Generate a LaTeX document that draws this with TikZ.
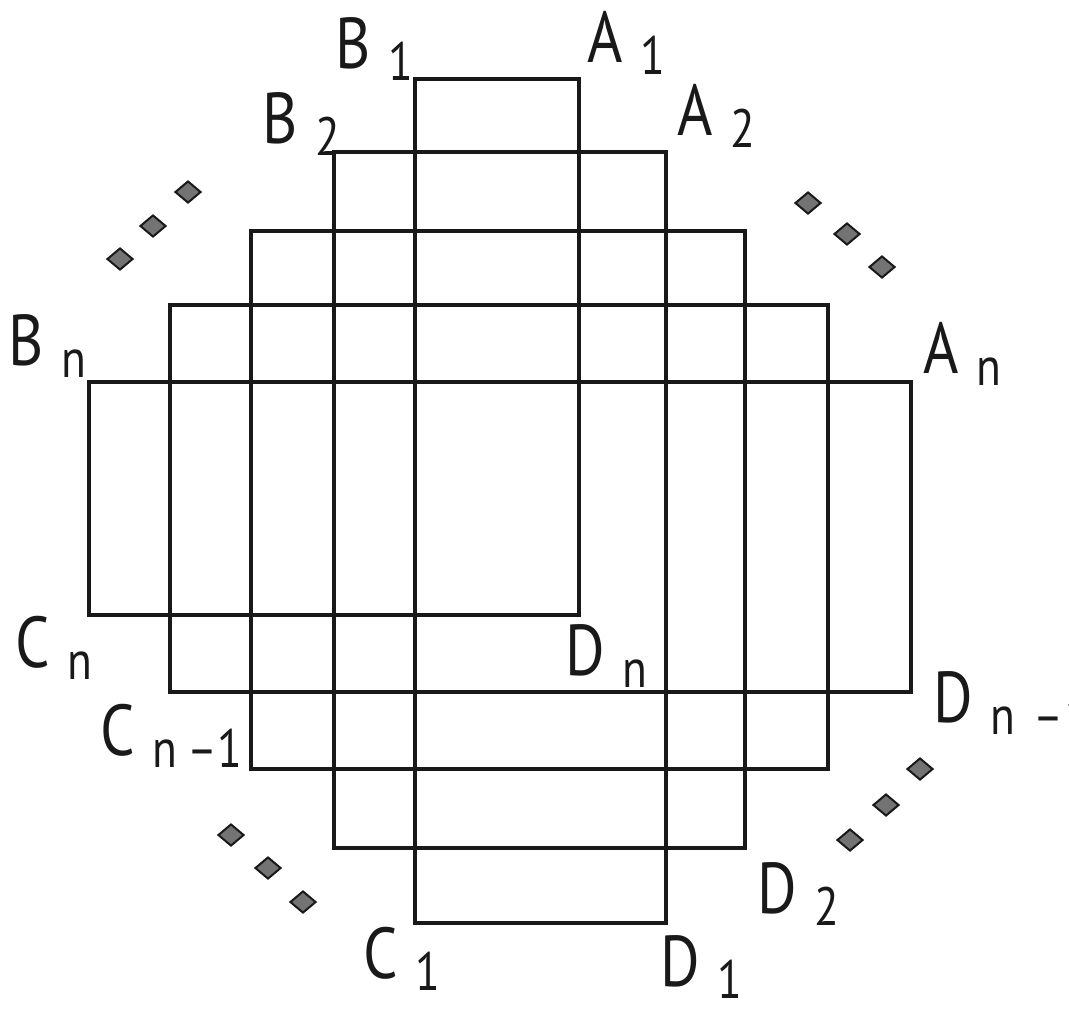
\documentclass[tikz,border=0pt]{standalone}
\usepackage{fontspec}
\setmainfont{PT Sans}[FakeStretch=0.84]
\usetikzlibrary{shapes.geometric}
\definecolor{mygray}{RGB}{115,115,115}
\definecolor{myink}{RGB}{25,25,25}
\newcommand{\corner}[2]{#1\hspace{9pt}\raisebox{-6pt}{\fontsize{27}{27}\selectfont #2}}

\begin{document}
\begin{tikzpicture}[x=0.5pt, y=-0.5pt,
    wire/.style={line width=1.7pt, line join=miter, color=myink},
    lbl/.style={anchor=base west, inner sep=0pt, font=\fontsize{36}{36}\selectfont, text=myink},
    dotmark/.style={diamond, draw=myink, fill=mygray, line width=1pt,
        minimum width=13pt, minimum height=11pt, inner sep=0pt}]
    % Page frame
    \useasboundingbox (0, 0) rectangle (1069, 1008);
    \clip (0, 0) rectangle (1069, 1008);

    % Corners of the spiral, loop by loop
    \coordinate (a1) at (579, 79);
    \coordinate (b1) at (415, 79);
    \coordinate (c1) at (415, 923);
    \coordinate (d1) at (666, 923);
    \coordinate (a2) at (666, 152);
    \coordinate (b2) at (334, 152);
    \coordinate (c2) at (334, 848);
    \coordinate (d2) at (745, 848);
    \coordinate (a3) at (745, 231);
    \coordinate (b3) at (251, 231);
    \coordinate (c3) at (251, 769);
    \coordinate (d3) at (828, 769);
    \coordinate (a4) at (828, 305);
    \coordinate (b4) at (170, 305);
    \coordinate (c4) at (170, 692);
    \coordinate (d4) at (911, 692);
    \coordinate (a5) at (911, 382);
    \coordinate (b5) at (89, 382);
    \coordinate (c5) at (89, 615);
    \coordinate (d5) at (579, 615);

    % The spiral itself
    \draw[wire] (a1) -- (b1) -- (c1) -- (d1)
        -- (a2) -- (b2) -- (c2) -- (d2)
        -- (a3) -- (b3) -- (c3) -- (d3)
        -- (a4) -- (b4) -- (c4) -- (d4)
        -- (a5) -- (b5) -- (c5) -- (d5) -- cycle;

    % Corner labels
    \node[lbl] (B1) at (335, 68) {\corner{B}{1}};
    \node[lbl] (A1) at (587, 62) {\corner{A}{1}};
    \node[lbl] (B2) at (262, 143) {\corner{B}{2}};
    \node[lbl] (A2) at (677, 135) {\corner{A}{2}};
    \node[lbl] (Bn) at (8, 365) {\corner{B}{n}};
    \node[lbl] (An) at (923, 373) {\corner{A}{n}};
    \node[lbl] (Cn) at (15, 667) {\corner{C}{n}};
    \node[lbl] (Dn) at (565, 675) {\corner{D}{n}};
    \node[lbl] (Cm) at (100, 755) {\corner{C}{n\hspace{5pt}–1}};
    \node[lbl] (Dm) at (933, 722) {\corner{D}{n\hspace{9pt}–\hspace{1pt}1}};
    \node[lbl] (D2) at (757, 913) {\corner{D}{2}};
    \node[lbl] (C1) at (363, 978) {\corner{C}{1}};
    \node[lbl] (D1) at (660, 986) {\corner{D}{1}};

    % Diagonal dots between the loops
    \foreach \x/\y [count=\i] in {120/259, 153/226, 188/192,
            808/203, 847/234, 882/267,
            231/835, 268/868, 303/902,
            850/840, 886/805, 920/769}
        \node[dotmark] (dot\i) at (\x, \y) {};
\end{tikzpicture}
\end{document}
